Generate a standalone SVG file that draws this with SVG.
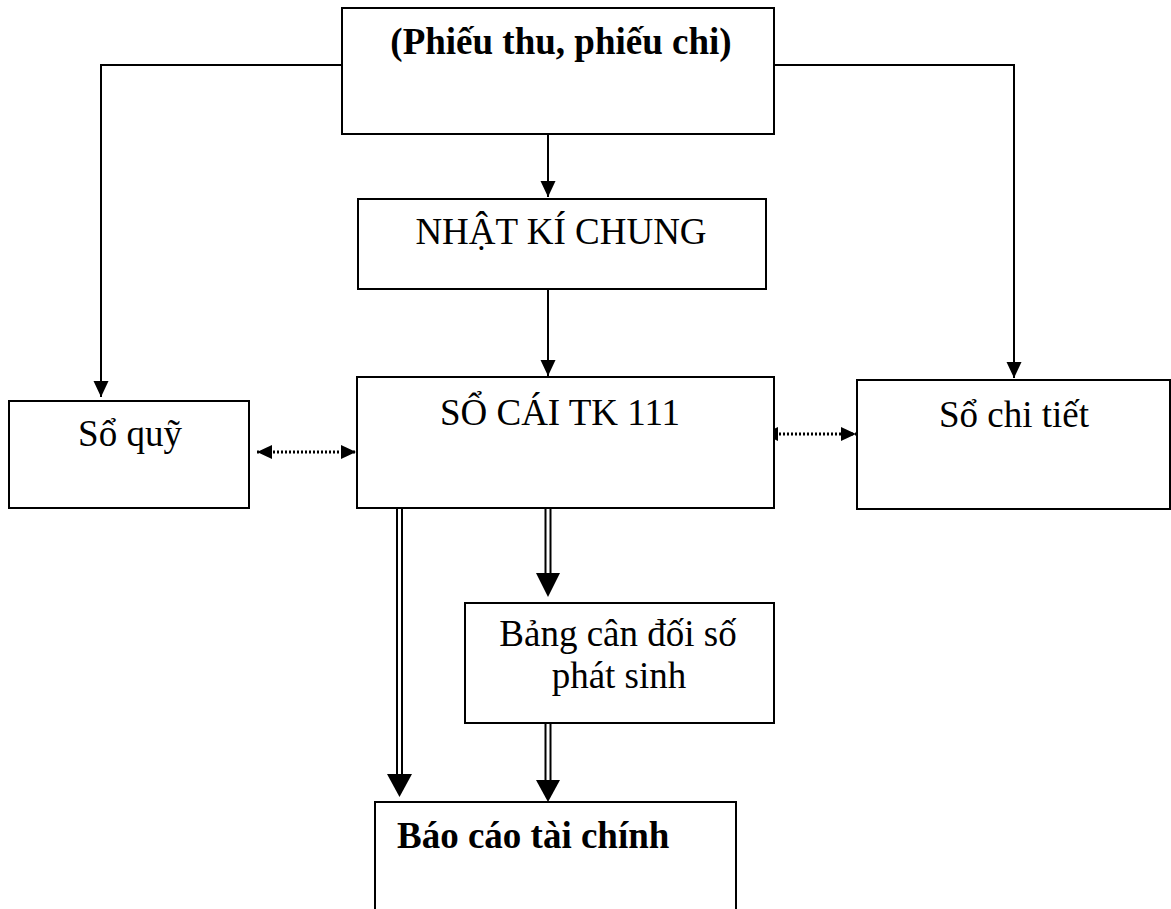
<svg xmlns="http://www.w3.org/2000/svg" width="1171" height="909" viewBox="0 0 1171 909">
<style>
.box{fill:#fff;stroke:#000;stroke-width:2}
.t{font-family:"Liberation Serif","Times New Roman",serif;font-size:37px;fill:#000;text-anchor:middle}
.b{font-weight:bold}
.ln{fill:none;stroke:#000;stroke-width:2}
.dot{fill:none;stroke:#000;stroke-width:3;stroke-dasharray:2 2}
.dbl{fill:none;stroke:#000;stroke-width:2}
</style>
<defs>
<marker id="ah" markerUnits="userSpaceOnUse" markerWidth="18" markerHeight="16" refX="16" refY="7.5" orient="auto">
<path d="M0,0 L16,7.5 L0,15 Z" fill="#000"/>
</marker>
<marker id="ahs" markerUnits="userSpaceOnUse" markerWidth="18" markerHeight="16" refX="15" refY="7" orient="auto-start-reverse">
<path d="M0,0 L15,7 L0,14 Z" fill="#000"/>
</marker>
</defs>
<g id="connectors">
<path class="ln" d="M342,65 H101 V397" marker-end="url(#ah)"/>
<path class="ln" d="M774,65 H1014 V378" marker-end="url(#ah)"/>
<path class="ln" d="M548,134 V197" marker-end="url(#ah)"/>
<path class="ln" d="M548,289 V376" marker-end="url(#ah)"/>
<path class="dot" d="M257,452 H356" marker-start="url(#ahs)" marker-end="url(#ahs)"/>
<path class="dot" d="M763,434 H856" marker-start="url(#ahs)" marker-end="url(#ahs)"/>
<g id="dbl-left">
<path class="dbl" d="M397,508 V776 M402,508 V776"/>
<path d="M387,774 L412,774 L399.5,797 Z" fill="#000"/>
</g>
<g id="dbl-mid1">
<path class="dbl" d="M545.5,508 V575 M550.5,508 V575"/>
<path d="M536,573 L560,573 L548,597 Z" fill="#000"/>
</g>
<g id="dbl-mid2">
<path class="dbl" d="M545.5,723 V782 M550.5,723 V782"/>
<path d="M536,780 L560,780 L548,802 Z" fill="#000"/>
</g>
</g>
<g id="node-chungtu">
<rect class="box" x="342" y="8" width="432" height="126"/>
<text class="t b" x="561" y="54">(Phiếu thu, phiếu chi)</text>
</g>
<g id="node-nhatki">
<rect class="box" x="358" y="199" width="408" height="90"/>
<text class="t" x="561" y="244">NHẬT KÍ CHUNG</text>
</g>
<g id="node-socai">
<rect class="box" x="357" y="377" width="417" height="131"/>
<text class="t" x="560" y="425">SỔ CÁI TK 111</text>
</g>
<g id="node-soquy">
<rect class="box" x="9" y="401" width="240" height="107"/>
<text class="t" x="130" y="446">Sổ quỹ</text>
</g>
<g id="node-sochitiet">
<rect class="box" x="857" y="380" width="313" height="129"/>
<text class="t" x="1014" y="427">Sổ chi tiết</text>
</g>
<g id="node-bangcandoi">
<rect class="box" x="465" y="603" width="309" height="120"/>
<text class="t" x="618" y="646">Bảng cân đối số</text>
<text class="t" x="619" y="688">phát sinh</text>
</g>
<g id="node-baocao">
<path class="box" d="M375,912 V802 H736 V912"/>
<text class="t b" x="397" y="848" style="text-anchor:start">Báo cáo tài chính</text>
</g>
</svg>
